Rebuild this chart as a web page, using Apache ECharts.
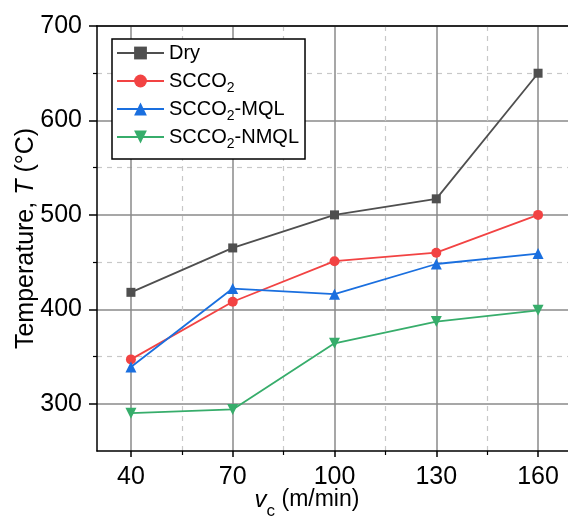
<!DOCTYPE html>
<html>
<head>
<meta charset="utf-8">
<script src="https://cdn.jsdelivr.net/npm/echarts@6/dist/echarts.min.js"></script>
<style>
html,body{margin:0;padding:0;background:#fff;}
#main{width:568px;height:516px;}
</style>
</head>
<body>
<div id="main"></div>
<script>
// cutting speed (m/min)
var speeds = [40, 70, 100, 130, 160];
// temperature readings (°C)
var dryTemp   = [418, 465, 500, 517, 650];
var scco2Temp = [347, 408, 451, 460, 500];
var mqlTemp   = [339, 422, 416, 448, 459];
var nmqlTemp  = [290, 294, 364, 387, 399];
var seriesNames = ['Dry', 'SCCO2', 'SCCO2-MQL', 'SCCO2-NMQL'];
var xMajor = [40, 70, 100, 130, 160];
var xMinor = [55, 85, 115, 145];
var yMajor = [300, 400, 500, 600, 700];
var yMinor = [350, 450, 550, 650];

var font = 'Liberation Sans';
var chart = echarts.init(document.getElementById('main'), null, {renderer: 'canvas'});

function pairs(vals){
    var out = [];
    for (var i = 0; i < speeds.length; i++) {
        out.push([speeds[i], vals[i]]);
    }
    return out;
}

function mkSeries(name, vals, color, symbol, size, rot){
    return {
        name: name,
        type: 'line',
        data: pairs(vals),
        symbol: symbol,
        symbolSize: size,
        symbolRotate: rot || 0,
        xAxisIndex: 0, yAxisIndex: 0,
        lineStyle: {color: color, width: 1.8},
        itemStyle: {color: color},
        emphasis: {disabled: true},
        z: 5
    };
}

var option = {
    animation: false,
    backgroundColor: '#fff',
    textStyle: {fontFamily: font, color: '#000'},
    grid: {left: 97, top: 26, right: -4, bottom: 65, outerBoundsMode: 'none', containLabel: false},
    legend: {
        orient: 'vertical',
        left: 112, top: 39,
        data: seriesNames,
        backgroundColor: '#fff',
        borderColor: '#000',
        borderWidth: 1.5,
        borderRadius: 0,
        padding: [0, 6, 8, 4],
        itemGap: 0,
        itemWidth: 47,
        itemHeight: 16,
        formatter: function(name){
            return name.replace('CO2', 'CO{s|2}');
        },
        textStyle: {
            fontFamily: font, fontSize: 20, color: '#000', lineHeight: 28,
            rich: {
                s: {fontFamily: font, fontSize: 14, color: '#000', lineHeight: 14, verticalAlign: 'bottom'}
            }
        }
    },
    xAxis: [{
        type: 'value', min: 30, max: 170, position: 'bottom',
        name: '{i|v}{c|c}{n| (m/min)}',
        nameLocation: 'middle', nameGap: 37, nameMoveOverlap: false,
        nameTextStyle: {
            padding: [0, 55, 0, 0],
            rich: {
                i: {fontFamily: font, fontSize: 24, fontStyle: 'italic', color: '#000', lineHeight: 28, verticalAlign: 'top'},
                c: {fontFamily: font, fontSize: 17, color: '#000', lineHeight: 46, verticalAlign: 'middle'},
                n: {fontFamily: font, fontSize: 23, color: '#000', lineHeight: 28, verticalAlign: 'top'}
            }
        },
        axisLine: {show: true, onZero: false, lineStyle: {color: '#000', width: 1.5}},
        axisTick: {show: true, inside: false, length: 6, customValues: xMajor, lineStyle: {color: '#000', width: 1.5}},
        axisLabel: {customValues: xMajor, fontFamily: font, fontSize: 25, color: '#000', margin: 14},
        splitLine: {show: true, lineStyle: {color: '#8a8a8a', width: 1.5}}
    }, {
        type: 'value', min: 30, max: 170, position: 'bottom',
        axisLine: {show: false},
        axisTick: {show: true, inside: false, length: 4, customValues: xMinor, lineStyle: {color: '#000', width: 1.2}},
        axisLabel: {show: false},
        splitLine: {show: true, lineStyle: {color: '#c8c8c8', width: 1.2, type: [5, 5]}}
    }, {
        type: 'value', min: 30, max: 170, position: 'top', z: 4,
        axisLine: {show: true, onZero: false, lineStyle: {color: '#000', width: 1.5}},
        axisTick: {show: false},
        axisLabel: {show: false},
        splitLine: {show: false}
    }],
    yAxis: [{
        type: 'value', min: 250, max: 700, position: 'left',
        name: '{n|Temperature, }{i|T}{n| (°C)}',
        nameLocation: 'middle', nameGap: 58, nameRotate: 90, nameMoveOverlap: false,
        nameTextStyle: {
            rich: {
                i: {fontFamily: font, fontSize: 25, fontStyle: 'italic', color: '#000'},
                n: {fontFamily: font, fontSize: 25, color: '#000'}
            }
        },
        axisLine: {show: true, onZero: false, lineStyle: {color: '#000', width: 1.5}},
        axisTick: {show: true, inside: false, length: 8, customValues: yMajor, lineStyle: {color: '#000', width: 1.5}},
        axisLabel: {customValues: yMajor, fontFamily: font, fontSize: 25, color: '#000', margin: 15},
        splitLine: {show: true, lineStyle: {color: '#8a8a8a', width: 1.5}}
    }, {
        type: 'value', min: 250, max: 700, position: 'left',
        axisLine: {show: false},
        axisTick: {show: true, inside: false, length: 4, customValues: yMinor, lineStyle: {color: '#000', width: 1.2}},
        axisLabel: {show: false},
        splitLine: {show: true, lineStyle: {color: '#c8c8c8', width: 1.2, type: [5, 5]}}
    }],
    series: [
        mkSeries(seriesNames[0], dryTemp, '#4f4f4f', 'rect', 9),
        mkSeries(seriesNames[1], scco2Temp, '#f24343', 'circle', 10),
        mkSeries(seriesNames[2], mqlTemp, '#1a6fdf', 'triangle', 11),
        mkSeries(seriesNames[3], nmqlTemp, '#37ad6b', 'triangle', 11, 180)
    ]
};
chart.setOption(option);
</script>
</body>
</html>
